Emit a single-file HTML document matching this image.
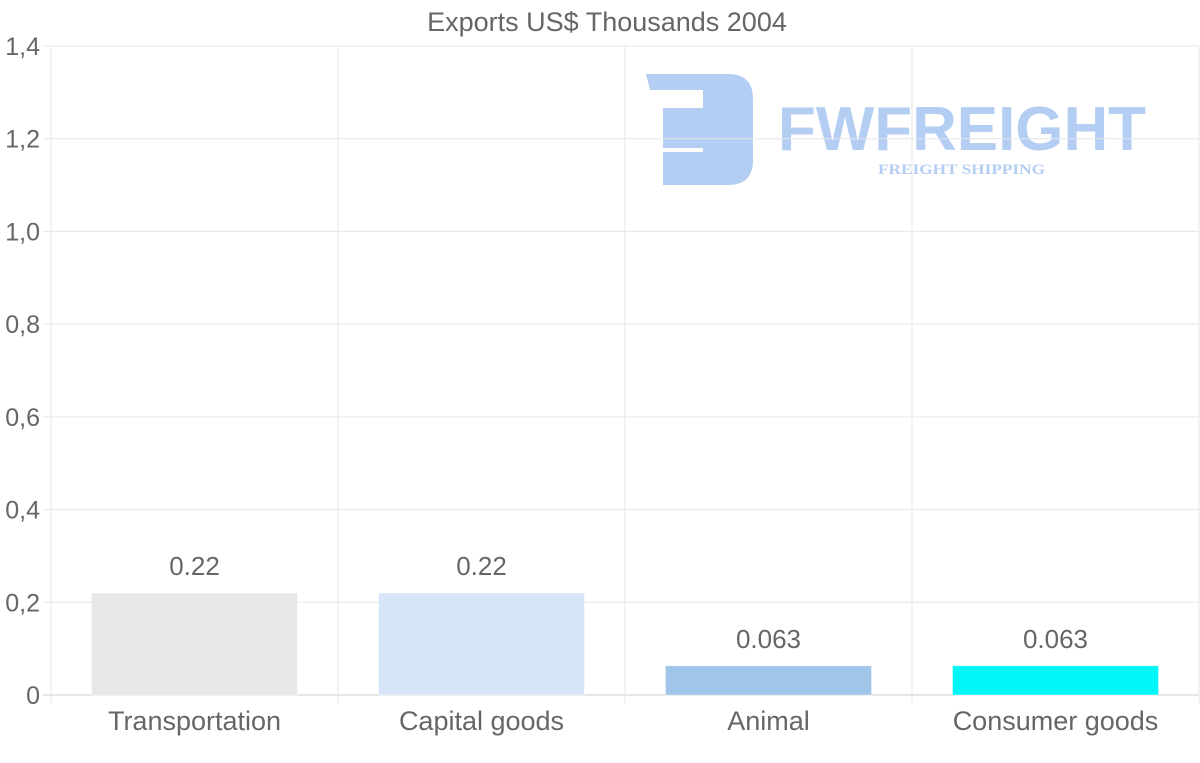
<!DOCTYPE html>
<html><head><meta charset="utf-8"><style>
body{margin:0;background:#fff;}
svg{display:block;font-family:"Liberation Sans",sans-serif;}
</style></head><body>
<svg id="c" width="1200" height="763">
<text x="607" y="31" text-anchor="middle" font-size="27" fill="#666">Exports US$ Thousands 2004</text>
<g id="logo" fill="#b3cdf3">
<path d="M646 74 H728 Q753 74 753 99 V160 Q753 185 728 185 H663 V152 H703 V148 H663 V108 H703 V90 H650 Z"/>
<text x="778" y="150" font-size="62" font-weight="bold" textLength="368" lengthAdjust="spacingAndGlyphs">FWFREIGHT</text>
<text x="878" y="174" font-size="15" font-weight="bold" font-family="Liberation Serif,serif" textLength="167" lengthAdjust="spacingAndGlyphs">FREIGHT SHIPPING</text>
</g>
<g id="grid"></g><g id="bars"></g>
</svg>
<script>
const categories=["Transportation","Capital goods","Animal","Consumer goods"];
const values=[0.22,0.22,0.063,0.063];
const labels=["0.22","0.22","0.063","0.063"];
const colors=["#e8e8e8","#d6e6f8","#9fc5e8","#00f7f7"];
const ticks=[0,0.2,0.4,0.6,0.8,1.0,1.2,1.4];
const tickLabels=["0","0,2","0,4","0,6","0,8","1,0","1,2","1,4"];
const NS="http://www.w3.org/2000/svg";
const x0=51,x1=1199,yTop=46,yBot=695,maxV=1.4;
const y=v=>yBot-(v/maxV)*(yBot-yTop);
const bw=(x1-x0)/categories.length;
const g=document.getElementById('grid'),b=document.getElementById('bars');
function mk(t,a,p){const e=document.createElementNS(NS,t);for(const k in a)e.setAttribute(k,a[k]);p.appendChild(e);return e;}
ticks.forEach((t,i)=>{
 const l=mk('line',{x1:x0-8,x2:x1,y1:y(t),y2:y(t),stroke:i==0?'#ccc':'#e6e6e6'},g);
 
 
 const tx=mk('text',{x:40,y:y(t)+9,'text-anchor':'end','font-size':25,fill:'#666'},g);
 tx.textContent=tickLabels[i];
 
 
});
for(let i=0;i<=categories.length;i++){
 const l=mk('line',{x1:x0+i*bw,x2:x0+i*bw,y1:yTop,y2:yBot+8,stroke:'#e6e6e6'},g);
 
 
}
categories.forEach((c,i)=>{
 const cx=x0+bw*(i+0.5),w=206;
 const r=mk('rect',{x:cx-w/2,y:y(values[i]),width:w,height:yBot-y(values[i]),fill:colors[i],stroke:'#fff','stroke-opacity':0.4},b);
 
 
 const v=mk('text',{x:cx,y:y(values[i])-18,'text-anchor':'middle','font-size':26,fill:'#666'},b);
 v.textContent=labels[i];
 
 
 const t=mk('text',{x:cx,y:730,'text-anchor':'middle','font-size':27,fill:'#666'},b);
 t.textContent=c;
 
 
});
</script>
</body></html>
